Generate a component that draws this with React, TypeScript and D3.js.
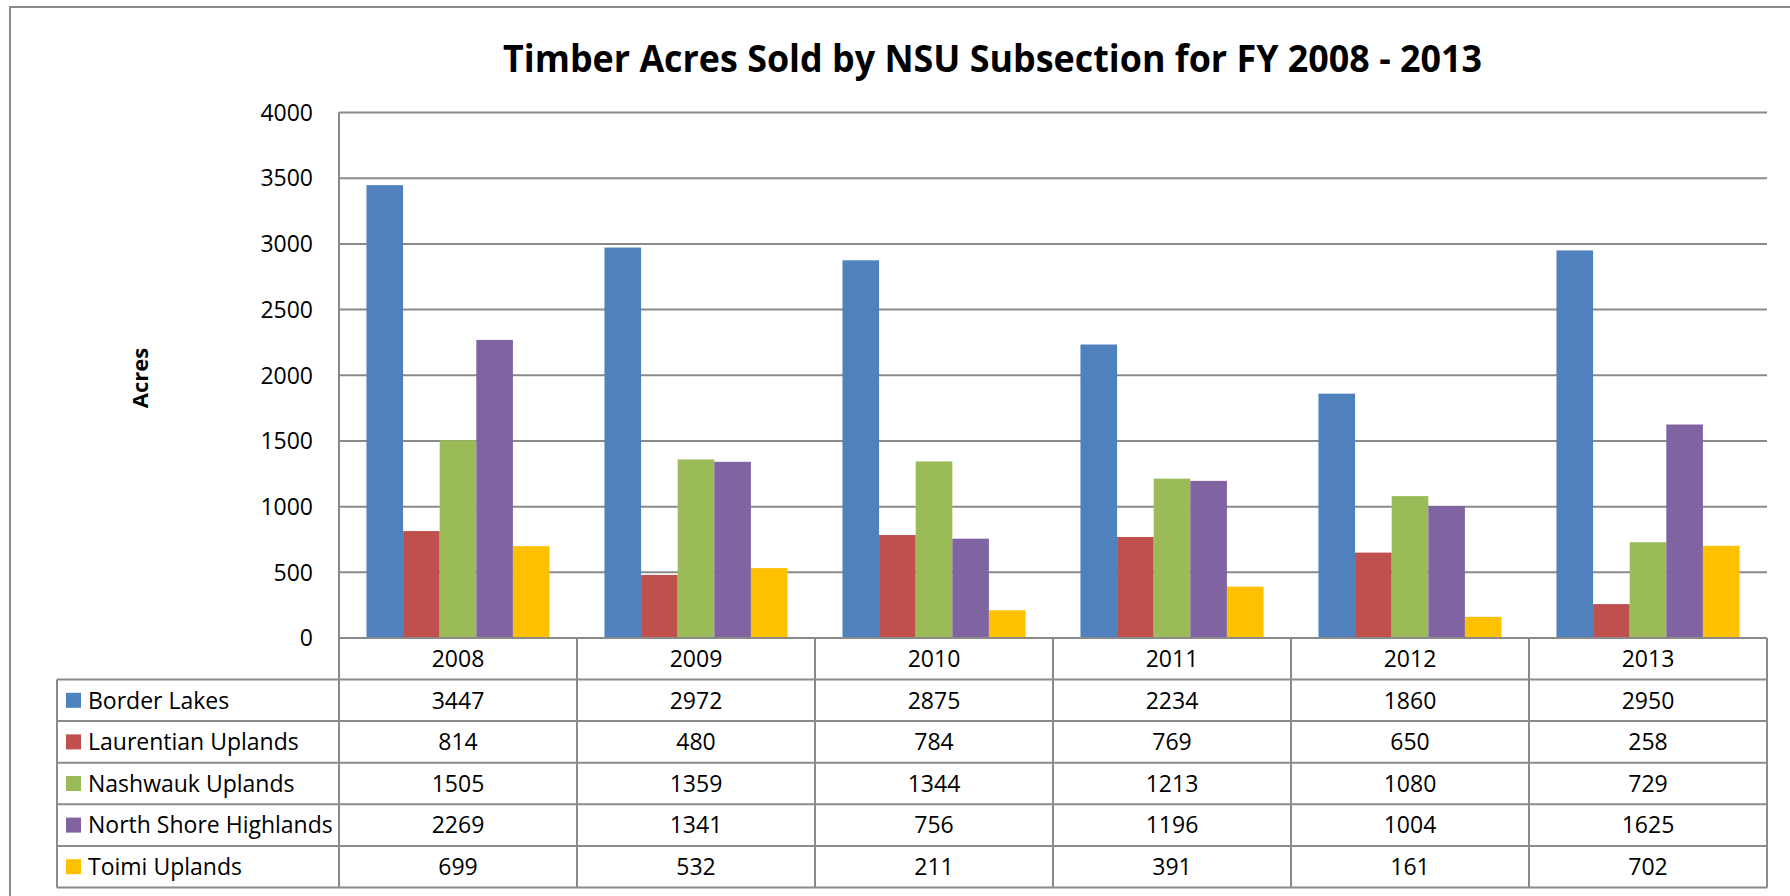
import React, { useEffect, useRef } from "react";
import * as d3 from "d3";

const years = ["2008", "2009", "2010", "2011", "2012", "2013"];
const seriesNames = [
  "Border Lakes",
  "Laurentian Uplands",
  "Nashwauk Uplands",
  "North Shore Highlands",
  "Toimi Uplands",
];
const borderLakes = [3447, 2972, 2875, 2234, 1860, 2950];
const laurentianUplands = [814, 480, 784, 769, 650, 258];
const nashwaukUplands = [1505, 1359, 1344, 1213, 1080, 729];
const northShoreHighlands = [2269, 1341, 756, 1196, 1004, 1625];
const toimiUplands = [699, 532, 211, 391, 161, 702];
const seriesColors = ["#4F81BD", "#C0504D", "#9BBB59", "#8064A2", "#FFC000"];
const yTicks = [0, 500, 1000, 1500, 2000, 2500, 3000, 3500, 4000];

const title = "Timber Acres Sold by NSU Subsection for FY 2008 - 2013";

function App() {
  const svgRef = useRef<SVGSVGElement | null>(null);

  useEffect(() => {
    drawChart();
  }, []);

  const drawChart = () => {
    const svg = d3.select(svgRef.current);
    svg.selectAll("*").remove();

    const font = "'Open Sans', 'Noto Sans', sans-serif";
    const fontSize = 23;
    const lineColor = "#8a8a8a";
    const values = [borderLakes, laurentianUplands, nashwaukUplands, northShoreHighlands, toimiUplands];

    const plotLeft = 339;
    const plotRight = 1767;
    const plotTop = 112.5;
    const plotBottom = 638;
    const tableLeft = 57;
    const tableBottom = 887.5;
    const headerBottom = 679.5;

    // chart frame
    svg
      .append("rect")
      .attr("x", 10)
      .attr("y", 7)
      .attr("width", 1900)
      .attr("height", 1000)
      .attr("fill", "#fff")
      .attr("stroke", lineColor)
      .attr("stroke-width", 2);

    svg
      .append("text")
      .attr("x", 992.5)
      .attr("y", 72)
      .attr("text-anchor", "middle")
      .attr("font-family", font)
      .attr("font-weight", "bold")
      .attr("font-size", 37)
      .attr("textLength", 979)
      .attr("lengthAdjust", "spacingAndGlyphs")
      .text(title);

    const xScale = d3.scaleBand<string>().domain(years).range([plotLeft, plotRight]);
    const seriesScale = d3
      .scaleBand<string>()
      .domain(seriesNames)
      .range([0, xScale.bandwidth()])
      .paddingInner(0)
      .paddingOuter(0.75);
    const yScale = d3.scaleLinear().domain([0, 4000]).range([plotBottom, plotTop]);
    const rowScale = d3.scaleBand<string>().domain(seriesNames).range([headerBottom, tableBottom]);

    // gridlines
    svg
      .append("g")
      .selectAll("line")
      .data(yTicks.slice(1))
      .enter()
      .append("line")
      .attr("x1", plotLeft)
      .attr("x2", plotRight)
      .attr("y1", (d) => yScale(d))
      .attr("y2", (d) => yScale(d))
      .attr("stroke", lineColor)
      .attr("stroke-width", 2);

    // y labels
    svg
      .append("g")
      .selectAll("text")
      .data(yTicks)
      .enter()
      .append("text")
      .attr("x", 313)
      .attr("y", (d) => yScale(d))
      .attr("dy", "0.36em")
      .attr("text-anchor", "end")
      .attr("font-family", font)
      .attr("font-size", fontSize)
      .text((d) => d);

    svg
      .append("text")
      .attr("transform", `translate(140,378) rotate(-90)`)
      .attr("dy", "0.36em")
      .attr("text-anchor", "middle")
      .attr("font-family", font)
      .attr("font-weight", "bold")
      .attr("font-size", 22)
      .text("Acres");

    // bars
    values.forEach((series, si) => {
      svg
        .append("g")
        .selectAll("rect")
        .data(series)
        .enter()
        .append("rect")
        .attr("x", (d, i) => (xScale(years[i]) as number) + (seriesScale(seriesNames[si]) as number))
        .attr("y", (d) => yScale(d))
        .attr("width", seriesScale.bandwidth())
        .attr("height", (d) => plotBottom - yScale(d))
        .attr("fill", seriesColors[si]);
    });

    // data table
    const table = svg.append("g");
    table
      .append("line")
      .attr("x1", plotLeft)
      .attr("x2", plotLeft)
      .attr("y1", plotTop)
      .attr("y2", tableBottom)
      .attr("stroke", lineColor)
      .attr("stroke-width", 2);

    table
      .selectAll(".colline")
      .data(years)
      .enter()
      .append("line")
      .attr("class", "colline")
      .attr("x1", (d) => (xScale(d) as number) + xScale.bandwidth())
      .attr("x2", (d) => (xScale(d) as number) + xScale.bandwidth())
      .attr("y1", plotBottom)
      .attr("y2", tableBottom)
      .attr("stroke", lineColor)
      .attr("stroke-width", 2);

    table
      .append("line")
      .attr("x1", plotLeft)
      .attr("x2", plotRight)
      .attr("y1", plotBottom)
      .attr("y2", plotBottom)
      .attr("stroke", lineColor)
      .attr("stroke-width", 2);

    table
      .selectAll(".rowline")
      .data(seriesNames)
      .enter()
      .append("line")
      .attr("class", "rowline")
      .attr("x1", tableLeft)
      .attr("x2", plotRight)
      .attr("y1", (d) => rowScale(d) as number)
      .attr("y2", (d) => rowScale(d) as number)
      .attr("stroke", lineColor)
      .attr("stroke-width", 2);

    table
      .append("line")
      .attr("x1", tableLeft)
      .attr("x2", plotRight)
      .attr("y1", tableBottom)
      .attr("y2", tableBottom)
      .attr("stroke", lineColor)
      .attr("stroke-width", 2);

    table
      .append("line")
      .attr("x1", tableLeft)
      .attr("x2", tableLeft)
      .attr("y1", headerBottom)
      .attr("y2", tableBottom)
      .attr("stroke", lineColor)
      .attr("stroke-width", 2);

    table
      .selectAll(".year")
      .data(years)
      .enter()
      .append("text")
      .attr("class", "year")
      .attr("x", (d) => (xScale(d) as number) + xScale.bandwidth() / 2)
      .attr("y", (plotBottom + headerBottom) / 2)
      .attr("dy", "0.36em")
      .attr("text-anchor", "middle")
      .attr("font-family", font)
      .attr("font-size", fontSize)
      .text((d) => d);

    seriesNames.forEach((name, si) => {
      const rowMid = (rowScale(name) as number) + rowScale.bandwidth() / 2;
      table
        .append("rect")
        .attr("x", 66)
        .attr("y", rowMid - 7.5)
        .attr("width", 15)
        .attr("height", 15)
        .attr("fill", seriesColors[si]);
      table
        .append("text")
        .attr("x", 88)
        .attr("y", rowMid)
        .attr("dy", "0.36em")
        .attr("font-family", font)
        .attr("font-size", fontSize)
        .text(name);
      table
        .append("g")
        .selectAll("text")
        .data(values[si])
        .enter()
        .append("text")
        .attr("x", (d, i) => (xScale(years[i]) as number) + xScale.bandwidth() / 2)
        .attr("y", rowMid)
        .attr("dy", "0.36em")
        .attr("text-anchor", "middle")
        .attr("font-family", font)
        .attr("font-size", fontSize)
        .text((d) => d);
    });
  };

  return (
    <div>
      <svg
        ref={svgRef}
        width={1790}
        height={896}
        style={{ position: "absolute", left: 0, top: 0 }}
      />
    </div>
  );
}

export default App;
